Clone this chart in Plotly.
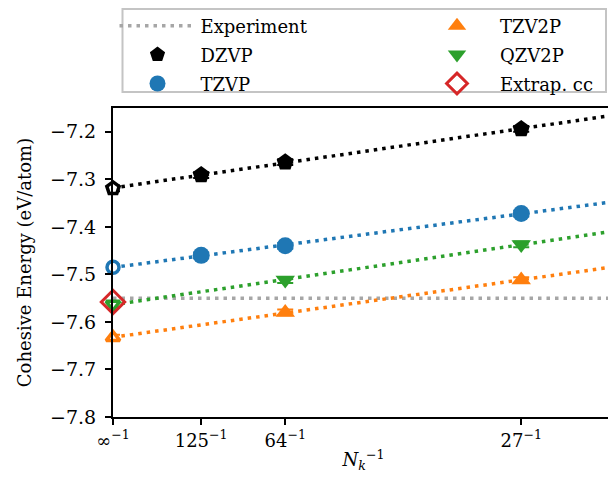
import numpy as np
import plotly.graph_objects as go

# ---- data ----
tick_vals = [0.0, 1 / 125, 1 / 64, 1 / 27]
tick_text = ["∞<sup>−1</sup>", "125<sup>−1</sup>", "64<sup>−1</sup>", "27<sup>−1</sup>"]

y_tick_vals = [-7.8, -7.7, -7.6, -7.5, -7.4, -7.3, -7.2]
y_tick_text = ["−7.8", "−7.7", "−7.6", "−7.5", "−7.4", "−7.3", "−7.2"]

experiment = -7.55

dzvp_x = [1 / 125, 1 / 64, 1 / 27]
dzvp_y = [-7.291, -7.264, -7.194]
dzvp_extrap = -7.319

tzvp_x = [1 / 125, 1 / 64, 1 / 27]
tzvp_y = [-7.460, -7.440, -7.372]
tzvp_extrap = -7.485

tzv2p_x = [1 / 64, 1 / 27]
tzv2p_y = [-7.580, -7.512]
tzv2p_extrap = -7.633

qzv2p_x = [1 / 64, 1 / 27]
qzv2p_y = [-7.512, -7.437]
qzv2p_extrap = -7.563

extrap_cc = -7.558

error_bar = 0.006
x_max = 1 / 22

FONT = "DejaVu Serif"
FS = 18
BLACK = "#000000"
BLUE = "#1f77b4"
ORANGE = "#ff7f0e"
GREEN = "#2ca02c"
RED = "#d62728"
GRAY = "#a6a6a6"
DASH = "3.5px,5px"

# the page body has an 8px margin, so the figure is 8px smaller on each axis
W, H = 608, 479
ML, MR, MT, MB = 105, 2, 100, 70
PW, PH = W - ML - MR, H - MT - MB

fig = go.Figure()


def fit_line(xs, ys):
    p = np.polyfit(xs, ys, 1)
    xx = np.array([0.0, x_max])
    return xx, np.polyval(p, xx)


series = [
    ("DZVP", dzvp_x, dzvp_y, dzvp_extrap, BLACK, "pentagon", 18, "legend"),
    ("TZVP", tzvp_x, tzvp_y, tzvp_extrap, BLUE, "circle", 17, "legend"),
    ("TZV2P", tzv2p_x, tzv2p_y, tzv2p_extrap, ORANGE, "triangle-up", 17, "legend2"),
    ("QZV2P", qzv2p_x, qzv2p_y, qzv2p_extrap, GREEN, "triangle-down", 17, "legend2"),
]

# experiment line
fig.add_trace(go.Scatter(x=[0, x_max], y=[experiment, experiment], mode="lines",
                         line=dict(color=GRAY, width=3.5, dash=DASH),
                         name="Experiment", legend="legend", legendrank=1,
                         legendgroup="exp"))

for name, xs, ys, ex, col, sym, size, lg in series:
    xx, yy = fit_line(xs + [0.0], ys + [ex])
    fig.add_trace(go.Scatter(x=xx, y=yy, mode="lines",
                             line=dict(color=col, width=3.5, dash=DASH),
                             showlegend=False, hoverinfo="skip"))

rank = 2
for name, xs, ys, ex, col, sym, size, lg in series:
    fig.add_trace(go.Scatter(x=xs, y=ys, mode="markers", name=name,
                             marker=dict(symbol=sym, size=size, color=col,
                                         line=dict(width=0)),
                             error_y=dict(type="constant", value=error_bar, color=col,
                                          thickness=2, width=8),
                             legend=lg, legendrank=rank, legendgroup=name,
                             cliponaxis=False))
    rank += 1
    fig.add_trace(go.Scatter(x=[0.0], y=[ex], mode="markers", showlegend=False,
                             marker=dict(symbol=sym, size=size - 5, color="white",
                                         line=dict(width=3.5, color=col)),
                             error_y=dict(type="constant", value=error_bar, color=col,
                                          thickness=2, width=7),
                             cliponaxis=False))

fig.add_trace(go.Scatter(x=[0.0], y=[extrap_cc], mode="markers", name="Extrap. cc",
                         marker=dict(symbol="diamond-open", size=18, color=RED,
                                     line=dict(width=3, color=RED)),
                         legend="legend2", legendrank=10, legendgroup="cc",
                         cliponaxis=False))

legend_common = dict(orientation="v", yanchor="top", xanchor="left",
                     bgcolor="rgba(0,0,0,0)", borderwidth=0,
                     font=dict(family=FONT, size=FS), itemwidth=76,
                     tracegroupgap=2.5)


def px(x):
    return (x - ML) / PW


def py(y):
    return (H - MB - y) / PH


fig.update_layout(
    width=W, height=H,
    margin=dict(l=ML, r=MR, t=MT, b=MB, autoexpand=False),
    plot_bgcolor="white", paper_bgcolor="white",
    font=dict(family=FONT, size=FS, color="black"),
    showlegend=True,
    legend=dict(x=px(106.5), y=py(-0.5), **legend_common),
    legend2=dict(x=px(406), y=py(-0.5), **legend_common),
    shapes=[dict(type="rect", xref="paper", yref="paper",
                 x0=px(114.5), x1=px(598.0), y0=py(84.0), y1=py(1.0),
                 line=dict(color="#c4c4c4", width=2), fillcolor="rgba(0,0,0,0)",
                 layer="above")],
)

fig.update_xaxes(range=[0, x_max], tickvals=tick_vals, ticktext=tick_text,
                 showgrid=False, zeroline=False, showline=True, mirror=True,
                 linecolor="black", linewidth=2, ticks="outside", ticklen=6,
                 tickwidth=1.5, tickcolor="black", automargin=False,
                 title=dict(text="<i>N</i><sub><i>k</i></sub><sup>−1</sup>", standoff=4,
                            font=dict(size=FS)),
                 tickfont=dict(size=FS))
fig.update_yaxes(range=[-7.8, -7.15], tickvals=y_tick_vals, ticktext=y_tick_text,
                 showgrid=False, zeroline=False, showline=True, mirror=True,
                 linecolor="black", linewidth=2, ticks="outside", ticklen=6,
                 tickwidth=1.5, tickcolor="black", automargin=False,
                 ticklabelstandoff=5,
                 title=dict(text="Cohesive Energy (eV/atom)", standoff=14,
                            font=dict(size=FS)),
                 tickfont=dict(size=19))

fig.write_html("out.html")
